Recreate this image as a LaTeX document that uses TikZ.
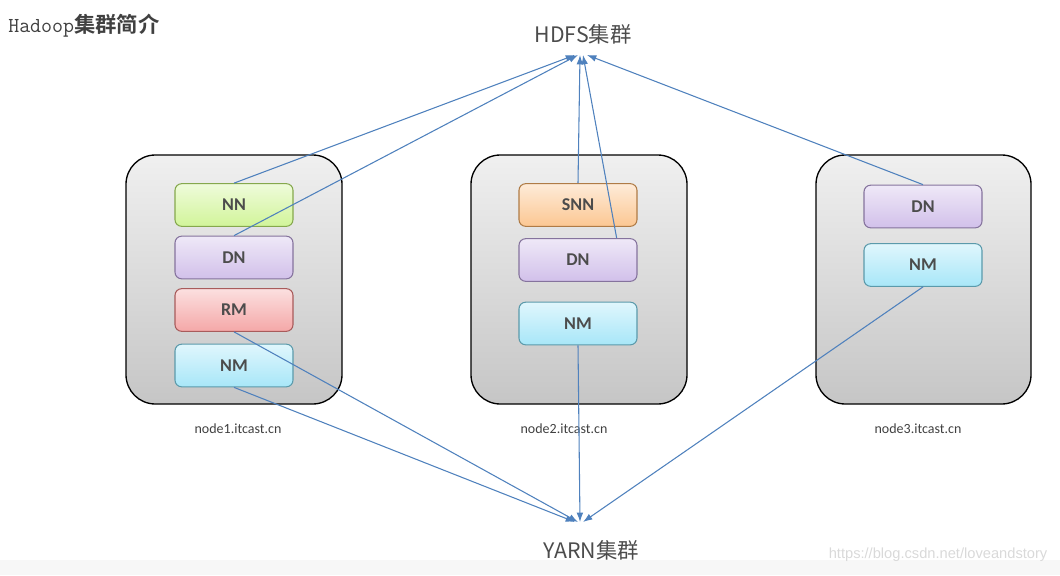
\documentclass[tikz,border=0pt]{standalone}
\usepackage{fontspec}
\usetikzlibrary{arrows.meta}
\setmainfont{Carlito}
\newfontfamily\cjk{Noto Sans CJK SC}
\newfontfamily\cjkb{Noto Sans CJK SC Bold}
\newfontfamily\wmf{Liberation Sans}
\definecolor{lnc}{RGB}{79,129,189}
\begin{document}
\begin{tikzpicture}[x=0.75pt,y=-0.75pt,
  host/.style={draw=black,line width=1pt,rounded corners=22pt,top color=gray!12,bottom color=gray!45},
  svc/.style={draw=#1!70!black,line width=0.8pt,rounded corners=5pt,minimum width=88.5pt,minimum height=32pt,inner sep=0pt,font=\bfseries\fontsize{13.5}{15}\selectfont,text=black!70,top color=#1!25!white,bottom color=#1!70!white},
  lab/.style={font=\fontsize{10.5}{12}\selectfont,text=black!75},
  con/.style={draw=lnc,line width=0.8pt,-{Latex[length=7pt,width=5pt]}}]
\useasboundingbox (0,0) rectangle (1060,575);
\fill[gray!6] (0,560) rectangle (1060,575);
\node[anchor=west,inner sep=0pt] (title) at (8,26) {\color{black!75}\ttfamily\fontsize{16}{19}\selectfont Hadoop\cjkb 集群简介};
\node (hdfs) at (583,34) {\cjk\fontsize{16}{19}\selectfont\color{black!70}HDFS集群};
\node (yarn) at (591,550) {\cjk\fontsize{16}{19}\selectfont\color{black!70}YARN集群};
\draw[host] (126,155) rectangle (342,404);
\draw[host] (471,155) rectangle (687,404);
\draw[host] (816,155) rectangle (1031,404);
\node[lab] (l1) at (238,429) {node1.itcast.cn};
\node[lab] (l2) at (564,429) {node2.itcast.cn};
\node[lab] (l3) at (918,429) {node3.itcast.cn};
\definecolor{cnn}{RGB}{190,240,110}
\definecolor{cdn}{RGB}{190,165,225}
\definecolor{crm}{RGB}{240,130,130}
\definecolor{cnm}{RGB}{130,220,245}
\definecolor{csn}{RGB}{250,175,100}
\node[svc=cnn] (nn) at (234,205) {NN};
\node[svc=cdn] (dn1) at (234,257.5) {DN};
\node[svc=crm] (rm) at (234,310) {RM};
\node[svc=cnm] (nm1) at (234,365.5) {NM};
\node[svc=csn] (snn) at (578,205) {SNN};
\node[svc=cdn] (dn2) at (578,260) {DN};
\node[svc=cnm] (nm2) at (578,323.5) {NM};
\node[svc=cdn] (dn3) at (923,206.5) {DN};
\node[svc=cnm] (nm3) at (923,265) {NM};
\coordinate (h1) at (575,55);
\coordinate (h2) at (578,55);
\coordinate (h3) at (580,55);
\coordinate (h4) at (583,55);
\coordinate (h5) at (587,55);
\coordinate (y1) at (578,522);
\coordinate (y2) at (575,522);
\coordinate (y3) at (580,522);
\coordinate (y4) at (583,522);
\draw[con] (nn.north) -- (h1);
\draw[con] (dn1.north) -- (h2);
\draw[con] (snn.north) -- (h3);
\draw[con] ([xshift=29pt]dn2.north) -- (h4);
\draw[con] (dn3.north) -- (h5);
\draw[con] (rm.south) -- (y1);
\draw[con] (nm1.south) -- (y2);
\draw[con] (nm2.south) -- (y3);
\draw[con] (nm3.south) -- (y4);
\node[anchor=east] (wm) at (1052,555) {\wmf\fontsize{11}{13}\selectfont\color{gray!30}https://blog.csdn.net/loveandstory};
\end{tikzpicture}
\end{document}
